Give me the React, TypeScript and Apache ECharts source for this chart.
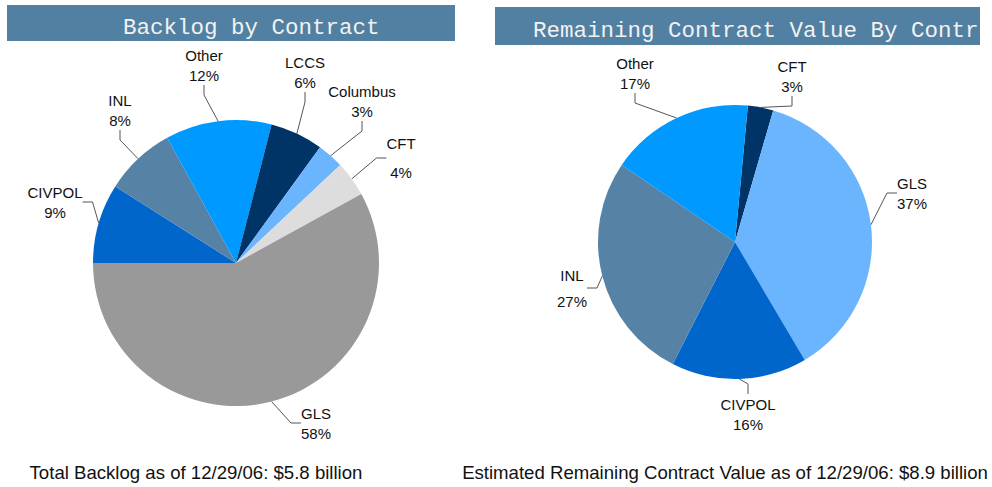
import React, { useEffect, useRef } from "react";
import * as echarts from "echarts";

const backlogNames = ["CIVPOL", "INL", "Other", "LCCS", "Columbus", "CFT", "GLS"];
const backlogValues = [9, 8, 12, 6, 3, 4, 58];
const backlogColors = ["#0066CC", "#5582A5", "#0099FF", "#003366", "#6BB5FF", "#DDDDDD", "#999999"];

const remainNames = ["CFT", "GLS", "CIVPOL", "INL", "Other"];
const remainValues = [3, 37, 16, 27, 17];
const remainColors = ["#003366", "#6BB5FF", "#0066CC", "#5582A5", "#0099FF"];

const leftTitle = "Backlog by Contract";
const rightTitle = "Remaining Contract Value By Contr";
const leftCaption = "Total Backlog as of 12/29/06: $5.8 billion";
const rightCaption = "Estimated Remaining Contract Value as of 12/29/06: $8.9 billion";

// label block centers (pixels), by series then data index
const leftLabelPos: [number, number][] = [
  [55, 202], [120, 110], [204, 65], [305, 72], [362, 101], [401, 158], [316, 423],
];
const rightLabelPos: [number, number][] = [
  [792, 76], [912, 193], [748, 414], [572, 288], [635, 73],
];

export default function App() {
  const ref = useRef<HTMLDivElement>(null);
  useEffect(() => {
    if (!ref.current) return;
    const chart = echarts.init(ref.current, null, { renderer: "svg" });
    const labelStyle = {
      show: true,
      position: "outside" as const,
      formatter: "{b}\n{c}%",
      fontFamily: "Liberation Sans, Arial, sans-serif",
      fontSize: 15,
      lineHeight: 20,
      color: "#111",
      align: "center" as const,
    };
    const labelLine = { show: true, length: 10, length2: 10, lineStyle: { color: "#555", width: 1 } };
    chart.setOption({
      animation: false,
      backgroundColor: "#ffffff",
      graphic: [
        { type: "rect", shape: { x: 7, y: 5, width: 448, height: 36 }, style: { fill: "#5180A2" } },
        {
          type: "text", x: 123, y: 28,
          style: { text: leftTitle, fill: "#f2f2f2", font: "22.5px 'Liberation Mono', 'Courier New', monospace", textVerticalAlign: "middle" },
        },
        { type: "rect", shape: { x: 495, y: 7, width: 485, height: 38 }, style: { fill: "#5180A2" } },
        {
          type: "text", x: 533, y: 31,
          style: { text: rightTitle, fill: "#f2f2f2", font: "22.5px 'Liberation Mono', 'Courier New', monospace", textVerticalAlign: "middle" },
        },
        {
          type: "text", x: 196, y: 472,
          style: { text: leftCaption, fill: "#111", font: "18.6px 'Liberation Sans', Arial, sans-serif", textAlign: "center", textVerticalAlign: "middle" },
        },
        {
          type: "text", x: 725, y: 472,
          style: { text: rightCaption, fill: "#111", font: "18.6px 'Liberation Sans', Arial, sans-serif", textAlign: "center", textVerticalAlign: "middle" },
        },
      ],
      series: [
        {
          type: "pie",
          center: [236, 263],
          radius: 143,
          startAngle: 180,
          clockwise: true,
          avoidLabelOverlap: false,
          itemStyle: { borderWidth: 0 },
          label: labelStyle,
          labelLine,
          labelLayout: (p: any) => ({
            x: leftLabelPos[p.dataIndex][0],
            y: leftLabelPos[p.dataIndex][1],
            align: "center",
            verticalAlign: "middle",
          }),
          data: backlogNames.map((n, i) => ({
            name: n,
            value: backlogValues[i],
            itemStyle: { color: backlogColors[i] },
            label: n === "CFT" ? { lineHeight: 29 } : undefined,
          })),
        },
        {
          type: "pie",
          center: [735, 242],
          radius: 137,
          startAngle: 84.6,
          clockwise: true,
          avoidLabelOverlap: false,
          itemStyle: { borderWidth: 0 },
          label: labelStyle,
          labelLine,
          labelLayout: (p: any) => ({
            x: rightLabelPos[p.dataIndex][0],
            y: rightLabelPos[p.dataIndex][1],
            align: "center",
            verticalAlign: "middle",
          }),
          data: remainNames.map((n, i) => ({
            name: n,
            value: remainValues[i],
            itemStyle: { color: remainColors[i] },
            label: n === "INL" ? { lineHeight: 26 } : undefined,
          })),
        },
      ],
    });
    return () => chart.dispose();
  }, []);
  return <div ref={ref} style={{ width: 992, height: 487, position: "absolute", left: 0, top: 0 }} />;
}
